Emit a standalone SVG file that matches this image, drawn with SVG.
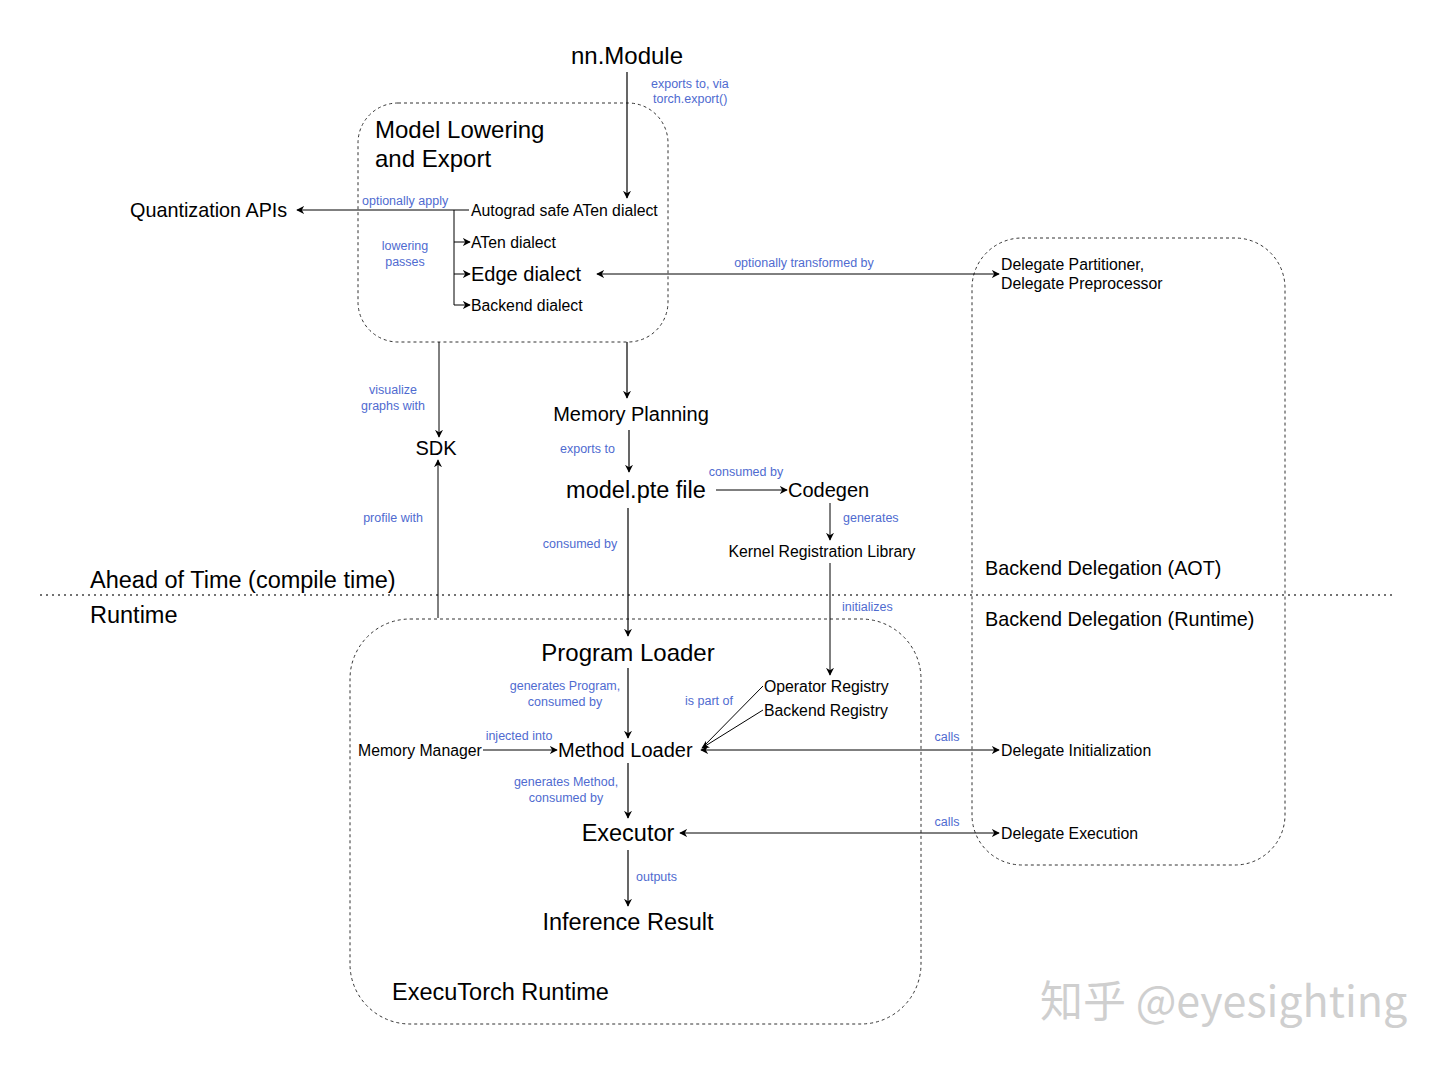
<svg xmlns="http://www.w3.org/2000/svg" width="1440" height="1065" viewBox="0 0 1440 1065">
<defs>
<marker id="ah" viewBox="0 0 10 10" refX="9" refY="5" markerWidth="8" markerHeight="8" markerUnits="userSpaceOnUse" orient="auto-start-reverse">
<path d="M0,0 L10,5 L0,10 L3,5 z" fill="#000"/>
</marker>
</defs>
<style>
text{font-family:"Liberation Sans",Arial,sans-serif;fill:#000}
.lbl{fill:#4f6bd0;font-size:12.5px}
.t15{font-size:15.8px}
.t20{font-size:20px}
.t22{font-size:23.5px}
.t24{font-size:24px}
.mid{text-anchor:middle}
.box{fill:none;stroke:#333;stroke-width:1;stroke-dasharray:3 3}
.ln{fill:none;stroke:#000;stroke-width:1.2}
.lnt{fill:none;stroke:#000;stroke-width:1}
.ar{marker-end:url(#ah)}
.ar2{marker-start:url(#ah);marker-end:url(#ah)}
</style>
<rect width="1440" height="1065" fill="#fff"/>

<g id="containers">
<rect id="box-lowering" class="box" x="358" y="103" width="310" height="239" rx="40"/>
<rect id="box-delegation" class="box" x="972" y="238" width="313" height="627" rx="50"/>
<rect id="box-runtime" class="box" x="350" y="619" width="571" height="405" rx="60"/>
<line x1="40" y1="595" x2="1396" y2="595" stroke="#444" stroke-width="1.3" stroke-dasharray="2 4"/>
</g>

<g id="connectors">
<line class="ln ar" x1="627" y1="72" x2="627" y2="198"/>
<line class="lnt ar" x1="469" y1="210" x2="297" y2="210"/>
<path class="lnt" d="M454,210 V305"/>
<line class="lnt ar" x1="454" y1="242" x2="470" y2="242"/>
<line class="lnt ar" x1="454" y1="274" x2="470" y2="274"/>
<line class="lnt ar" x1="454" y1="305" x2="470" y2="305"/>
<line class="lnt ar2" x1="597" y1="274" x2="999" y2="274"/>
<line class="lnt ar" x1="439" y1="342" x2="439" y2="437"/>
<line class="ln ar" x1="627" y1="342" x2="627" y2="398"/>
<line class="ln ar" x1="629" y1="430" x2="629" y2="472"/>
<line class="lnt ar" x1="716" y1="490" x2="787" y2="490"/>
<line class="lnt ar" x1="830" y1="503" x2="830" y2="540"/>
<line class="ln ar" x1="628" y1="508" x2="628" y2="636"/>
<line class="lnt ar" x1="438" y1="618" x2="438" y2="460"/>
<line class="lnt ar" x1="830" y1="563" x2="830" y2="675"/>
<line class="ln ar" x1="628" y1="668" x2="628" y2="738"/>
<line class="lnt" x1="763" y1="686" x2="702" y2="748"/>
<line class="lnt ar" x1="763" y1="710" x2="702" y2="748"/>
<line class="lnt ar" x1="483" y1="750" x2="557" y2="750"/>
<line class="lnt ar2" x1="701" y1="750" x2="999" y2="750"/>
<line class="ln ar" x1="628" y1="763" x2="628" y2="818"/>
<line class="lnt ar2" x1="680" y1="833" x2="999" y2="833"/>
<line class="ln ar" x1="628" y1="850" x2="628" y2="906"/>
</g>

<g id="n-nnmodule"><text class="t24 mid" x="627" y="64">nn.Module</text></g>
<g id="n-lowering-title"><text class="t24" x="375" y="138">Model Lowering</text><text class="t24" x="375" y="167">and Export</text></g>
<g id="n-quant"><text x="130" y="217" style="font-size:19.8px">Quantization APIs</text></g>
<g id="n-autograd"><text class="t15" x="471" y="216">Autograd safe ATen dialect</text></g>
<g id="n-aten"><text class="t15" x="471" y="248">ATen dialect</text></g>
<g id="n-edge"><text class="t20" x="471" y="281">Edge dialect</text></g>
<g id="n-backend"><text class="t15" x="471" y="311">Backend dialect</text></g>
<g id="n-partitioner"><text class="t15" x="1001" y="270">Delegate Partitioner,</text><text class="t15" x="1001" y="289">Delegate Preprocessor</text></g>
<g id="n-sdk"><text class="t20 mid" x="436" y="455">SDK</text></g>
<g id="n-memplan"><text class="t20 mid" x="631" y="421">Memory Planning</text></g>
<g id="n-pte"><text class="mid" x="636" y="498" style="font-size:23.5px">model.pte file</text></g>
<g id="n-codegen"><text class="t20" x="788" y="497">Codegen</text></g>
<g id="n-kernel"><text class="t15 mid" x="822" y="557">Kernel Registration Library</text></g>
<g id="n-aot"><text class="t22" x="90" y="588">Ahead of Time (compile time)</text></g>
<g id="n-rt"><text class="t22" x="90" y="623">Runtime</text></g>
<g id="n-bd-aot"><text x="985" y="575" style="font-size:19.8px">Backend Delegation (AOT)</text></g>
<g id="n-bd-rt"><text x="985" y="626" style="font-size:19.8px">Backend Delegation (Runtime)</text></g>
<g id="n-progloader"><text class="t24 mid" x="628" y="661">Program Loader</text></g>
<g id="n-opreg"><text class="t15" x="764" y="692">Operator Registry</text></g>
<g id="n-bereg"><text class="t15" x="764" y="716">Backend Registry</text></g>
<g id="n-memmgr"><text class="t15" x="358" y="756">Memory Manager</text></g>
<g id="n-methodloader"><text class="t20" x="558" y="757">Method Loader</text></g>
<g id="n-delinit"><text class="t15" x="1001" y="756">Delegate Initialization</text></g>
<g id="n-executor"><text class="t22 mid" x="628" y="841">Executor</text></g>
<g id="n-delexec"><text class="t15" x="1001" y="839">Delegate Execution</text></g>
<g id="n-inference"><text class="t22 mid" x="628" y="930">Inference Result</text></g>
<g id="n-runtime-title"><text class="t22" x="392" y="1000">ExecuTorch Runtime</text></g>

<g id="labels">
<text class="lbl" x="651" y="88">exports to, via</text>
<text class="lbl" x="653" y="103">torch.export()</text>
<text class="lbl" x="362" y="205">optionally apply</text>
<text class="lbl mid" x="405" y="250">lowering</text>
<text class="lbl mid" x="405" y="266">passes</text>
<text class="lbl mid" x="804" y="267">optionally transformed by</text>
<text class="lbl mid" x="393" y="394">visualize</text>
<text class="lbl mid" x="393" y="410">graphs with</text>
<text class="lbl" x="560" y="453">exports to</text>
<text class="lbl mid" x="746" y="476">consumed by</text>
<text class="lbl" x="843" y="522">generates</text>
<text class="lbl mid" x="393" y="522">profile with</text>
<text class="lbl mid" x="580" y="548">consumed by</text>
<text class="lbl" x="842" y="611">initializes</text>
<text class="lbl mid" x="565" y="690">generates Program,</text>
<text class="lbl mid" x="565" y="706">consumed by</text>
<text class="lbl mid" x="709" y="705">is part of</text>
<text class="lbl mid" x="519" y="740">injected into</text>
<text class="lbl mid" x="947" y="741">calls</text>
<text class="lbl mid" x="566" y="786">generates Method,</text>
<text class="lbl mid" x="566" y="802">consumed by</text>
<text class="lbl mid" x="947" y="826">calls</text>
<text class="lbl" x="636" y="881">outputs</text>
</g>

<g id="watermark"><text x="1040" y="1017" style="font-family:'Noto Sans CJK SC','Liberation Sans',sans-serif;font-size:43px;fill:#cfcfcf">知乎 @eyesighting</text></g>
</svg>
